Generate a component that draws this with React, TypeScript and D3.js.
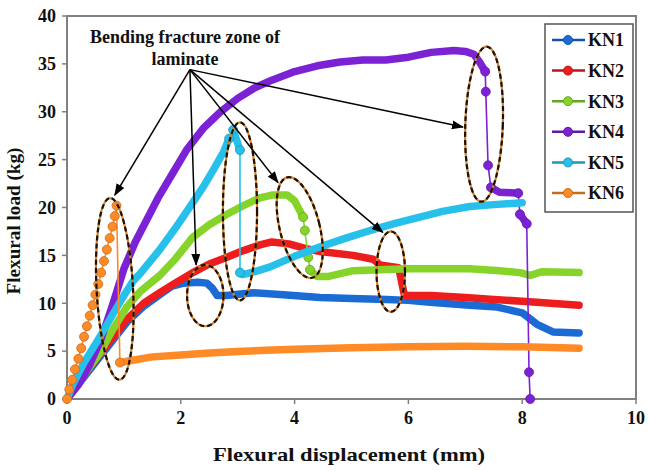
import * as d3 from "d3";

type Pt = [number, number];

// axis ticks
const xTicks = [0, 2, 4, 6, 8, 10];
const yTicks = [0, 5, 10, 15, 20, 25, 30, 35, 40];

const seriesNames = ["KN1", "KN2", "KN3", "KN4", "KN5", "KN6"];
const seriesColors = ["#1a6cd4", "#ee1d1d", "#86d42a", "#7b22d4", "#27c0ea", "#ff8a26"];

// flexural displacement (mm), flexural load (kg)
const kn1: Pt[] = [
  [0, 0], [0.3, 2.3], [0.63, 4.8], [1.05, 8.0], [1.35, 9.7], [1.63, 10.9], [1.85, 11.8],
  [2.05, 12.1], [2.3, 12.2], [2.46, 12.1], [2.55, 11.6], [2.64, 10.8], [2.8, 10.8],
  [3.27, 11.1], [3.8, 10.9], [4.45, 10.6], [5.0, 10.5], [5.62, 10.4], [6.0, 10.3],
  [6.38, 10.1], [7.08, 9.8], [7.56, 9.6], [8.0, 9.0], [8.26, 7.8], [8.54, 7.0], [9.0, 6.9],
];
const kn2: Pt[] = [
  [0, 0], [0.3, 2.5], [0.63, 5.1], [1.05, 8.3], [1.35, 10.0], [1.63, 11.1], [1.9, 12.1],
  [2.21, 13.2], [2.5, 14.1], [2.81, 14.8], [3.1, 15.5], [3.39, 16.1], [3.6, 16.4],
  [3.9, 16.2], [4.2, 15.7], [4.45, 15.4], [5.03, 15.0], [5.38, 14.6], [5.5, 14.0],
  [5.83, 13.7], [5.93, 10.8], [6.4, 10.8], [7.0, 10.6], [7.5, 10.4], [8.0, 10.2],
  [8.5, 10.0], [9.0, 9.8],
];
const kn3: Pt[] = [
  [0, 0], [0.23, 2.0], [0.58, 4.8], [0.8, 7.2], [1.05, 9.6], [1.3, 11.3], [1.63, 12.9],
  [1.9, 14.6], [2.21, 16.9], [2.5, 18.2], [2.81, 19.3], [3.1, 20.2], [3.39, 21.0],
  [3.6, 21.3], [3.87, 21.3], [4.0, 20.7], [4.08, 19.8], [4.15, 19.0], [4.18, 17.6],
  [4.24, 14.8], [4.27, 13.5], [4.39, 12.8], [4.6, 12.8], [5.03, 13.4], [5.5, 13.5],
  [6.0, 13.6], [6.5, 13.6], [7.08, 13.6], [7.6, 13.4], [7.96, 13.2], [8.14, 12.9],
  [8.35, 13.3], [9.0, 13.2],
];
const kn4: Pt[] = [
  [0, 0], [0.2, 1.5], [0.4, 3.6], [0.6, 6.3], [0.8, 9.8], [1.0, 13.6], [1.2, 16.4],
  [1.4, 18.7], [1.6, 21.0], [1.85, 23.5], [2.1, 26.0], [2.4, 28.3], [2.7, 30.0],
  [3.0, 31.4], [3.3, 32.5], [3.6, 33.3], [4.0, 34.2], [4.4, 34.8], [4.8, 35.2],
  [5.2, 35.4], [5.6, 35.4], [6.0, 35.7], [6.4, 36.2], [6.8, 36.4], [7.0, 36.3],
  [7.15, 36.0], [7.25, 35.2], [7.35, 34.2], [7.36, 32.1], [7.4, 24.4], [7.45, 22.1],
  [7.6, 21.6], [7.93, 21.5], [7.96, 19.3], [8.08, 18.3], [8.12, 2.8], [8.14, 0],
];
const kn5: Pt[] = [
  [0, 0], [0.1, 1.5], [0.3, 3.8], [0.58, 6.5], [0.8, 8.8], [1.0, 10.8], [1.16, 12.3],
  [1.3, 13.2], [1.63, 15.6], [1.9, 17.8], [2.21, 20.5], [2.4, 22.2], [2.57, 23.9],
  [2.75, 25.8], [2.85, 27.2], [2.92, 28.1], [3.04, 26.0], [3.04, 13.2], [3.09, 13.0],
  [3.3, 13.3], [3.57, 13.8], [4.0, 14.9], [4.45, 15.9], [4.9, 16.8], [5.33, 17.6],
  [5.8, 18.4], [6.2, 19.0], [6.6, 19.6], [7.08, 20.1], [7.5, 20.3], [8.0, 20.5],
];
const kn6: Pt[] = [
  [0, 0], [0.04, 1.0], [0.09, 2.0], [0.14, 3.1], [0.2, 4.2], [0.25, 5.3], [0.3, 6.5],
  [0.35, 7.6], [0.4, 8.7], [0.45, 9.8], [0.5, 10.9], [0.55, 12.0], [0.6, 13.2],
  [0.65, 14.4], [0.7, 15.6], [0.75, 16.8], [0.8, 18.0], [0.84, 19.1], [0.87, 20.2],
  [0.93, 3.8], [1.1, 4.0], [1.5, 4.4], [2.0, 4.6], [2.5, 4.8], [3.0, 4.95], [3.5, 5.1],
  [4.0, 5.2], [5.0, 5.35], [6.0, 5.45], [7.0, 5.5], [8.0, 5.45], [9.0, 5.3],
];
const seriesData = [kn1, kn2, kn3, kn4, kn5, kn6];

// fracture zones: centre (mm, kg), half-width (mm), half-height (kg), tilt (deg)
const zoneCx = [0.84, 2.43, 3.04, 4.09, 5.69, 7.33];
const zoneCy = [11.5, 10.8, 19.6, 17.9, 13.3, 28.7];
const zoneRx = [0.32, 0.32, 0.3, 0.35, 0.25, 0.33];
const zoneRy = [9.5, 3.2, 9.3, 5.4, 4.2, 8.1];
const zoneTilt = [-3, 0, 0, -14, 0, 2];

const arrowFrom: Pt = [2.16, 34.4];
const arrowTo: Pt[] = [[0.84, 21.3], [2.27, 14.0], [3.71, 22.6], [5.55, 17.4], [6.96, 28.4]];

const FONT = "'Liberation Serif', 'Times New Roman', serif";

export default function App() {
  const width = 649;
  const height = 471;
  const x = d3.scaleLinear().domain([0, 10]).range([67, 636]);
  const y = d3.scaleLinear().domain([0, 40]).range([399, 16]);
  const line = d3.line<Pt>().x((d) => x(d[0])).y((d) => y(d[1]));

  // steep drops are drawn as a thin line with markers, the rest as a thick band
  const isThin = (a: Pt, b: Pt) =>
    Math.abs(x(b[0]) - x(a[0])) < 4.5 && Math.abs(y(b[1]) - y(a[1])) > 8;

  const renderSeries = (data: Pt[], color: string, i: number) => {
    const runs: Pt[][] = [];
    let cur: Pt[] = [];
    const markers = new Set<number>();
    for (let k = 1; k < data.length; k++) {
      if (isThin(data[k - 1], data[k])) {
        markers.add(k - 1);
        markers.add(k);
        if (cur.length > 1) runs.push(cur);
        cur = [];
      } else {
        if (cur.length === 0) cur.push(data[k - 1]);
        cur.push(data[k]);
      }
    }
    if (cur.length > 1) runs.push(cur);
    const dark = d3.color(color)!.darker(0.7).formatHex();
    return (
      <g key={i}>
        <path d={line(data) ?? ""} fill="none" stroke={color} strokeWidth={1.6} />
        {runs.map((r, j) => (
          <path
            key={j}
            d={line(r) ?? ""}
            fill="none"
            stroke={color}
            strokeWidth={7.5}
            strokeLinejoin="round"
            strokeLinecap="round"
          />
        ))}
        {[...markers].map((k) => (
          <circle
            key={k}
            cx={x(data[k][0])}
            cy={y(data[k][1])}
            r={4.5}
            fill={color}
            stroke={dark}
            strokeWidth={0.8}
          />
        ))}
      </g>
    );
  };

  return (
    <svg
      width={width}
      height={height}
      style={{ position: "absolute", left: 0, top: 0, background: "#fff" }}
    >
      <defs>
        <marker
          id="arrowHead"
          viewBox="0 0 12 10"
          refX={11}
          refY={5}
          markerWidth={12}
          markerHeight={10}
          markerUnits="userSpaceOnUse"
          orient="auto"
        >
          <path d="M0,0.5 L12,5 L0,9.5 z" fill="#000" />
        </marker>
      </defs>

      {/* plot frame */}
      <rect x={67} y={16} width={636 - 67} height={399 - 16} fill="#fff" stroke="#808080" strokeWidth={2} />

      {/* y axis ticks and labels */}
      {yTicks.map((t) => (
        <g key={t}>
          <line x1={62} x2={67} y1={y(t)} y2={y(t)} stroke="#808080" strokeWidth={1.5} />
          <text
            x={56}
            y={y(t)}
            dy="0.35em"
            textAnchor="end"
            fontFamily={FONT}
            fontWeight="bold"
            fontSize={18}
            fill="#111"
          >
            {t}
          </text>
        </g>
      ))}

      {/* x axis ticks and labels */}
      {xTicks.map((t) => (
        <g key={t}>
          <line x1={x(t)} x2={x(t)} y1={399} y2={404} stroke="#808080" strokeWidth={1.5} />
          <text
            x={x(t)}
            y={424}
            textAnchor="middle"
            fontFamily={FONT}
            fontWeight="bold"
            fontSize={18}
            fill="#111"
          >
            {t}
          </text>
        </g>
      ))}

      {/* axis titles */}
      <text
        x={349}
        y={461}
        textAnchor="middle"
        fontFamily={FONT}
        fontWeight="bold"
        fontSize={19}
        textLength={272}
        lengthAdjust="spacingAndGlyphs"
        fill="#111"
      >
        Flexural displacement (mm)
      </text>
      <text
        transform="translate(20,221) rotate(-90)"
        textAnchor="middle"
        fontFamily={FONT}
        fontWeight="bold"
        fontSize={18}
        textLength={147}
        lengthAdjust="spacingAndGlyphs"
        fill="#111"
      >
        Flexural load (kg)
      </text>

      {/* series */}
      {seriesData.map((d, i) => renderSeries(d, seriesColors[i], i))}

      {/* fracture zones */}
      {zoneCx.map((cx, i) => {
        const px = x(cx);
        const py = y(zoneCy[i]);
        const rx = x(cx + zoneRx[i]) - px;
        const ry = py - y(zoneCy[i] + zoneRy[i]);
        const tr = `rotate(${zoneTilt[i]},${px},${py})`;
        return (
          <g key={i} transform={tr}>
            <ellipse cx={px} cy={py} rx={rx} ry={ry} fill="none" stroke="#d9822b" strokeWidth={2.2} />
            <ellipse
              cx={px}
              cy={py}
              rx={rx}
              ry={ry}
              fill="none"
              stroke="#1a1208"
              strokeWidth={2.2}
              strokeDasharray="5 3"
            />
          </g>
        );
      })}

      {/* arrows */}
      {arrowTo.map((p, i) => (
        <line
          key={i}
          x1={x(arrowFrom[0])}
          y1={y(arrowFrom[1])}
          x2={x(p[0])}
          y2={y(p[1])}
          stroke="#000"
          strokeWidth={1.5}
          markerEnd="url(#arrowHead)"
        />
      ))}

      <text x={185} y={43} textAnchor="middle" fontFamily={FONT} fontWeight="bold" fontSize={18} fill="#111">
        Bending fracture zone of
      </text>
      <text x={185} y={65} textAnchor="middle" fontFamily={FONT} fontWeight="bold" fontSize={18} fill="#111">
        laminate
      </text>

      {/* legend */}
      <rect x={545} y={24} width={88} height={188} fill="#fff" stroke="#555" strokeWidth={1.5} />
      {seriesNames.map((name, i) => {
        const ly = 40 + i * 30.6;
        const dark = d3.color(seriesColors[i])!.darker(0.7).formatHex();
        return (
          <g key={name}>
            <line x1={552} x2={585} y1={ly} y2={ly} stroke={dark} strokeWidth={2.5} />
            <circle cx={568} cy={ly} r={4.5} fill={seriesColors[i]} stroke={dark} strokeWidth={1} />
            <text x={588} y={ly} dy="0.35em" fontFamily={FONT} fontWeight="bold" fontSize={18} fill="#111">
              {name}
            </text>
          </g>
        );
      })}
    </svg>
  );
}
